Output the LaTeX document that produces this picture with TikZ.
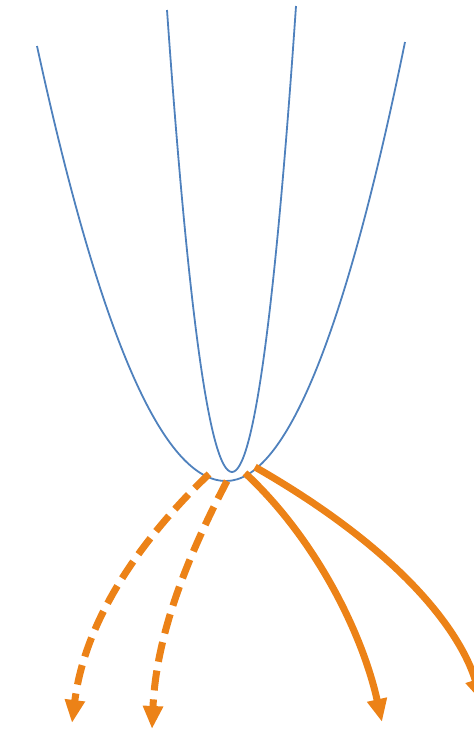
\documentclass[tikz,border=0pt]{standalone}
\usetikzlibrary{arrows.meta}
\definecolor{parblue}{HTML}{4F81BD}
\definecolor{arrorange}{HTML}{EC8217}
\begin{document}
\begin{tikzpicture}[x=1pt,y=-1pt,
  parab/.style={draw=parblue,line width=1.8pt},
  arr/.style={draw=arrorange,line width=7pt,-{Triangle[width=19pt,length=23pt]}},
  dasharr/.style={arr,dash pattern=on 20pt off 9pt}]
\useasboundingbox (0,0) rectangle (474,742);
\clip (0,0) rectangle (474,742);
% coordinates
\coordinate (wv) at (226,481);
\coordinate (wl) at (37,46);
\coordinate (wr) at (405,42);
\coordinate (nv) at (232,472);
\coordinate (nl) at (167,10);
\coordinate (nr) at (296,6);
% parabolas
\draw[parab] (wl) .. controls (100,336) and (163,481) .. (wv)
  .. controls (285.7,481) and (345.3,334.7) .. (wr);
\draw[parab] (nl) .. controls (188.7,318) and (210.3,472) .. (nv)
  .. controls (253.3,472) and (274.7,316.7) .. (nr);
% arrows
\coordinate (a1s) at (209,474);
\coordinate (a1e) at (72,723);
\coordinate (a2s) at (227,481);
\coordinate (a2e) at (152,729);
\coordinate (a3s) at (245,473);
\coordinate (a3e) at (382,722);
\coordinate (a4s) at (255,467);
\coordinate (a4e) at (482,702);
\draw[dasharr] (a1s) .. controls (140,540) and (85,620) .. (a1e);
\draw[dasharr] (a2s) .. controls (183,565) and (156,640) .. (a2e);
\draw[arr] (a3s) .. controls (315,538) and (362,632) .. (a3e);
\draw[arr] (a4s) .. controls (400,550) and (460,630) .. (a4e);
\end{tikzpicture}
\end{document}
